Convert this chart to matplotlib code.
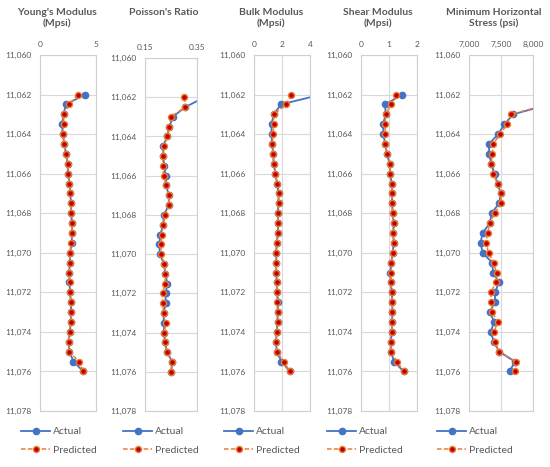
import numpy as np
import matplotlib
matplotlib.use('Agg')
import matplotlib.pyplot as plt
from matplotlib.ticker import FuncFormatter, MultipleLocator
from matplotlib.lines import Line2D

plt.rcParams['font.family'] = ['Lato', 'DejaVu Sans']

# profundidades (ft)
depth = [11062.0, 11062.5, 11063.0, 11063.5, 11064.0, 11064.5, 11065.0, 11065.5,
         11066.0, 11066.5, 11067.0, 11067.5, 11068.0, 11068.5, 11069.0, 11069.5,
         11070.0, 11070.5, 11071.0, 11071.5, 11072.0, 11072.5, 11073.0, 11073.5,
         11074.0, 11074.5, 11075.0, 11075.5, 11076.0]

young_act = [4.04, 2.28, 2.13, 1.95, 2.04, 2.16, 2.33, 2.46, 2.50, 2.63, 2.72, 2.75, 2.78, 2.86, 2.84,
             2.84, 2.69, 2.66, 2.60, 2.63, 2.69, 2.75, 2.78, 2.75, 2.66, 2.57, 2.63, 2.99, 3.86]
young_pred = [3.38, 2.63, 2.13, 2.10, 2.04, 2.16, 2.33, 2.46, 2.50, 2.63, 2.72, 2.75, 2.78, 2.84, 2.84,
              2.78, 2.69, 2.66, 2.63, 2.66, 2.69, 2.75, 2.78, 2.75, 2.66, 2.57, 2.63, 3.47, 3.86]

poisson_act = [0.38, 0.305, 0.257, 0.244, 0.235, 0.220, 0.220, 0.224, 0.229, 0.232, 0.241, 0.242, 0.222,
               0.220, 0.209, 0.205, 0.207, 0.223, 0.228, 0.236, 0.229, 0.229, 0.222, 0.222, 0.224, 0.226,
               0.235, 0.255, 0.250]
poisson_pred = [0.30, 0.305, 0.250, 0.244, 0.235, 0.223, 0.220, 0.218, 0.222, 0.232, 0.241, 0.242, 0.228,
                0.220, 0.214, 0.213, 0.213, 0.223, 0.228, 0.227, 0.218, 0.218, 0.222, 0.231, 0.224, 0.226,
                0.235, 0.255, 0.250]

bulk_act = [4.8, 1.92, 1.41, 1.25, 1.25, 1.29, 1.37, 1.41, 1.53, 1.65, 1.75, 1.75, 1.70, 1.72, 1.70,
            1.63, 1.58, 1.60, 1.58, 1.63, 1.63, 1.73, 1.68, 1.68, 1.63, 1.56, 1.63, 1.96, 2.56]
bulk_pred = [2.66, 2.30, 1.41, 1.41, 1.37, 1.29, 1.37, 1.41, 1.53, 1.65, 1.75, 1.75, 1.70, 1.72, 1.70,
             1.63, 1.58, 1.60, 1.58, 1.63, 1.63, 1.65, 1.68, 1.68, 1.63, 1.56, 1.63, 2.13, 2.56]

shear_act = [1.48, 0.86, 0.88, 0.79, 0.80, 0.86, 0.93, 1.02, 1.04, 1.10, 1.11, 1.11, 1.13, 1.17, 1.15,
             1.17, 1.13, 1.08, 1.05, 1.06, 1.10, 1.12, 1.12, 1.11, 1.10, 1.06, 1.07, 1.18, 1.52]
shear_pred = [1.26, 1.06, 0.88, 0.87, 0.86, 0.86, 0.93, 1.02, 1.04, 1.10, 1.11, 1.11, 1.13, 1.17, 1.15,
              1.17, 1.13, 1.08, 1.07, 1.06, 1.10, 1.12, 1.12, 1.11, 1.10, 1.06, 1.07, 1.29, 1.52]

mhs_act = [8500, 8250, 7689, 7554, 7456, 7311, 7316, 7347, 7399, 7446, 7497, 7471, 7352, 7326, 7212,
           7181, 7212, 7363, 7378, 7466, 7409, 7404, 7326, 7394, 7337, 7389, 7471, 7715, 7637]
mhs_pred = [8450, 8230, 7658, 7596, 7487, 7378, 7363, 7347, 7378, 7446, 7497, 7503, 7399, 7326, 7290,
            7264, 7306, 7383, 7430, 7420, 7342, 7347, 7363, 7451, 7389, 7404, 7471, 7736, 7720]

titles = ["Young's Modulus\n(Mpsi)", "Poisson's Ratio", "Bulk Modulus\n(Mpsi)",
          "Shear Modulus\n(Mpsi)", "Minimum Horizontal\nStress (psi)"]
xlims = [(0, 5), (0.15, 0.35), (0, 4), (0, 2), (7000, 8000)]
xticks = [[0, 5], [0.15, 0.35], [0, 2, 4], [0, 1, 2], [7000, 7500, 8000]]
xfmt = ['{:.0f}', '{:.2f}', '{:.0f}', '{:.0f}', '{:,.0f}']

# posiciones en pixeles: izquierda, derecha, arriba, abajo
boxes = [(40, 96, 55, 411), (145, 197, 58, 411), (254, 310, 55, 411),
         (361, 417, 55, 411), (469, 533, 55, 411)]
title_x = [57, 164, 271, 378, 494]
legend_x = [21, 123, 224, 327, 437]

W, H = 550, 467
fig = plt.figure(figsize=(W / 100, H / 100), dpi=100)

gris = '#595959'
azul = '#4472C4'
naranja = '#ED7D31'
rojo = '#C00000'

estilo_act = dict(ls='-', color=azul, lw=1.3, marker='o', ms=4.5, mfc=azul, mec=azul)
estilo_pred = dict(ls='--', color=naranja, lw=1.1, marker='o', ms=4.3, mfc=rojo, mec=naranja,
                   mew=1.0, dashes=(3, 1.5))

series = [(young_act, young_pred), (poisson_act, poisson_pred), (bulk_act, bulk_pred),
          (shear_act, shear_pred), (mhs_act, mhs_pred)]

for i, (act, pred) in enumerate(series):
    l, r, t, b = boxes[i]
    ax = fig.add_axes([l / W, 1 - b / H, (r - l) / W, (b - t) / H])

    ax.plot(act, depth, **estilo_act)
    ax.plot(pred, depth, **estilo_pred)

    ax.set_ylim(11078, 11060)
    ax.set_xlim(*xlims[i])
    ax.set_xticks(xticks[i])
    ax.yaxis.set_major_locator(MultipleLocator(2))
    ax.yaxis.set_major_formatter(FuncFormatter(lambda v, p: '{:,.0f}'.format(v)))
    f = xfmt[i]
    ax.xaxis.set_major_formatter(FuncFormatter(lambda v, p, f=f: f.format(v)))
    ax.xaxis.tick_top()
    ax.tick_params(axis='both', length=0, labelsize=6, labelcolor=gris)
    ax.tick_params(axis='y', pad=6)
    ax.tick_params(axis='x', pad=5)
    ax.grid(True, color='#d9d9d9', lw=0.8)
    ax.set_axisbelow(True)
    for s in ax.spines.values():
        s.set_color('#d0d0d0')
        s.set_linewidth(0.8)

    fig.text(title_x[i] / W, 1 - 8 / H, titles[i], ha='center', va='top', fontsize=7.5,
             fontweight='bold', color=gris, linespacing=1.25)

    handles = [Line2D([], [], **estilo_act), Line2D([], [], **estilo_pred)]
    fig.legend(handles, ['Actual', 'Predicted'], loc='upper left',
               bbox_to_anchor=(legend_x[i] / W, 1 - 427 / H), frameon=False, fontsize=7.5,
               labelcolor=gris, handlelength=2.8, handletextpad=0.3, labelspacing=0.9,
               borderpad=0, borderaxespad=0)

fig.savefig('out.png', dpi=100)
